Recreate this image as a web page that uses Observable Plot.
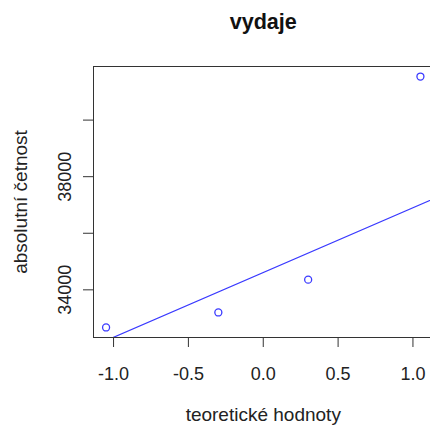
<!DOCTYPE html>
<html><head><meta charset="utf-8">
<script src="https://cdn.jsdelivr.net/npm/d3@7"></script>
<script src="https://cdn.jsdelivr.net/npm/@observablehq/plot@0.6"></script>
<style>html,body{margin:0;padding:0;background:#fff;overflow:hidden;width:430px;height:425px}
#chart svg{max-width:none !important;width:440px;height:425px;display:block}</style>
</head><body><div id="chart"></div>
<script>
const title = "vydaje";
const xLabel = "teoretické hodnoty";
const yLabel = "absolutní četnost";
const theoretical = [-1.05, -0.30, 0.30, 1.05];
const vydaje = [32670, 33200, 34360, 41540];
const xTicks = [-1.0, -0.5, 0.0, 0.5, 1.0];
const yTicks = [34000, 36000, 38000, 40000];
const yTickLabels = [34000, 38000];

const points = theoretical.map((t, i) => ({t, v: vydaje[i]}));

// qqline: line through the 1st and 3rd quartiles (as R's qqline)
const sorted = vydaje.slice().sort(d3.ascending);
const q1 = d3.quantile(sorted, 0.25), q3 = d3.quantile(sorted, 0.75);
const zq = 0.6744898;
const slope = (q3 - q1) / (2 * zq);
const intercept = (q1 + q3) / 2;
const lineData = [-2, 2].map(t => ({t, v: intercept + slope * t}));

const ext = (a) => { const [lo, hi] = d3.extent(a); const p = (hi - lo) * 0.04; return [lo - p, hi + p]; };

const chart = Plot.plot({
  width: 440, height: 425,
  marginLeft: 93, marginRight: 7.5, marginTop: 66, marginBottom: 88,
  style: {fontFamily: "'Liberation Sans', Arial, sans-serif", fontSize: "18px", color: "#222", background: "#fff"},
  x: {domain: ext(theoretical)},
  y: {domain: ext(vydaje)},
  marks: [
    Plot.axisX({ticks: xTicks, tickSize: 10, tickPadding: 20, tickFormat: d => d.toFixed(1), label: null, stroke: "#333", fontSize: 18}),
    Plot.axisY({ticks: yTicks, tickSize: 10, tickFormat: () => "", label: null, stroke: "#333"}),
    Plot.text(yTickLabels, {y: d => d, text: d => String(d), frameAnchor: "left", rotate: -90, dx: -28.5, textAnchor: "middle", fill: "#222", fontSize: 18}),
    Plot.text([yLabel], {frameAnchor: "left", rotate: -90, dx: -72.5, textAnchor: "middle", fill: "#222", fontSize: 19}),
    Plot.text([xLabel], {frameAnchor: "bottom", dy: 83, lineAnchor: "bottom", fill: "#222", fontSize: 19}),
    Plot.text([title], {frameAnchor: "top", dy: -37.6, lineAnchor: "bottom", fill: "#111", fontSize: 21.6, fontWeight: "bold"}),
    Plot.line(lineData, {x: "t", y: "v", stroke: "#3a3aff", strokeWidth: 1.2, clip: true}),
    Plot.dot(points, {x: "t", y: "v", r: 3.5, stroke: "#3a3aff", fill: "none", strokeWidth: 1.3}),
    Plot.frame({stroke: "#333"})
  ]
});
document.getElementById("chart").appendChild(chart);
</script>
</body></html>
